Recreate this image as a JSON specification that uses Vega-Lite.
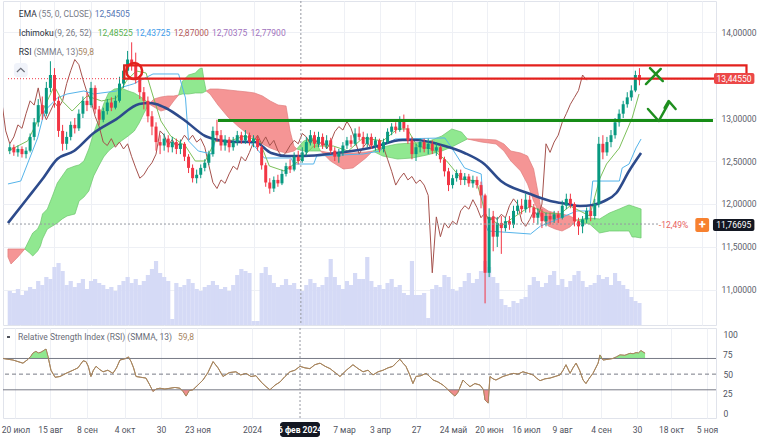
{
"$schema": "https://vega.github.io/schema/vega-lite/v6.json",
"padding": 0,
"background": "white",
"spacing": 1,
"config": {"view": {"stroke": "#e0e3eb"}, "font": "Roboto", "axis": {"labelFont": "Roboto", "labelFontSize": 8.5, "labelColor": "#50535e", "labelOverlap": false}, "text": {"font": "Roboto"}},
"datasets": {
"c": [
{"i":-3,"j":-29,"o":12.62,"h":12.70,"l":12.58,"c":12.66,"v":1.7},
{"i":-1,"j":-27,"o":12.66,"h":12.69,"l":12.56,"c":12.60,"v":1.6},
{"i":1,"j":-25,"o":12.60,"h":12.68,"l":12.55,"c":12.64,"v":1.8},
{"i":3,"j":-23,"o":12.64,"h":12.67,"l":12.54,"c":12.58,"v":1.5},
{"i":5,"j":-21,"o":12.58,"h":12.66,"l":12.53,"c":12.62,"v":1.7},
{"i":7,"j":-19,"o":12.62,"h":12.82,"l":12.60,"c":12.78,"v":1.9},
{"i":9,"j":-17,"o":12.78,"h":13.00,"l":12.74,"c":12.95,"v":1.8},
{"i":11,"j":-15,"o":12.95,"h":13.22,"l":12.90,"c":13.15,"v":2.2},
{"i":13,"j":-13,"o":13.15,"h":13.25,"l":12.98,"c":13.05,"v":2.0},
{"i":15,"j":-11,"o":13.05,"h":13.42,"l":13.02,"c":13.35,"v":2.4},
{"i":17,"j":-9,"o":13.35,"h":13.66,"l":13.30,"c":13.50,"v":2.3},
{"i":19,"j":-7,"o":13.50,"h":13.58,"l":13.12,"c":13.20,"v":2.9},
{"i":21,"j":-5,"o":13.20,"h":13.25,"l":12.78,"c":12.85,"v":3.1},
{"i":23,"j":-3,"o":12.85,"h":12.92,"l":12.62,"c":12.70,"v":2.7},
{"i":25,"j":-1,"o":12.70,"h":12.84,"l":12.63,"c":12.78,"v":2.0},
{"i":27,"j":1,"o":12.78,"h":12.96,"l":12.74,"c":12.92,"v":2.2},
{"i":29,"j":3,"o":12.92,"h":13.00,"l":12.82,"c":12.88,"v":1.9},
{"i":31,"j":5,"o":12.88,"h":13.10,"l":12.85,"c":13.05,"v":2.1},
{"i":33,"j":7,"o":13.05,"h":13.25,"l":13.00,"c":13.20,"v":2.3},
{"i":35,"j":9,"o":13.20,"h":13.30,"l":13.08,"c":13.15,"v":1.8},
{"i":37,"j":11,"o":13.15,"h":13.42,"l":13.12,"c":13.35,"v":2.2},
{"i":39,"j":13,"o":13.35,"h":13.38,"l":13.05,"c":13.10,"v":2.3},
{"i":41,"j":15,"o":13.10,"h":13.14,"l":12.92,"c":12.98,"v":2.1},
{"i":43,"j":17,"o":12.98,"h":13.12,"l":12.95,"c":13.08,"v":2.0},
{"i":45,"j":19,"o":13.08,"h":13.22,"l":13.04,"c":13.18,"v":1.8},
{"i":47,"j":21,"o":13.18,"h":13.24,"l":13.08,"c":13.12,"v":1.9},
{"i":49,"j":23,"o":13.12,"h":13.26,"l":13.10,"c":13.20,"v":1.7},
{"i":51,"j":25,"o":13.20,"h":13.48,"l":13.18,"c":13.40,"v":2.0},
{"i":53,"j":27,"o":13.40,"h":13.62,"l":13.35,"c":13.55,"v":2.2},
{"i":55,"j":29,"o":13.55,"h":13.78,"l":13.50,"c":13.68,"v":2.4},
{"i":57,"j":31,"o":13.68,"h":13.88,"l":13.55,"c":13.62,"v":2.1},
{"i":59,"j":33,"o":13.62,"h":13.76,"l":13.40,"c":13.45,"v":2.3},
{"i":61,"j":35,"o":13.45,"h":13.50,"l":13.22,"c":13.30,"v":2.0},
{"i":63,"j":37,"o":13.30,"h":13.36,"l":13.10,"c":13.20,"v":2.2},
{"i":65,"j":39,"o":13.20,"h":13.25,"l":12.95,"c":13.02,"v":2.5},
{"i":67,"j":41,"o":13.02,"h":13.08,"l":12.80,"c":12.90,"v":2.8},
{"i":69,"j":43,"o":12.90,"h":12.95,"l":12.62,"c":12.72,"v":3.2},
{"i":71,"j":45,"o":12.72,"h":12.80,"l":12.58,"c":12.68,"v":2.6},
{"i":73,"j":47,"o":12.68,"h":12.82,"l":12.62,"c":12.76,"v":2.4},
{"i":75,"j":49,"o":12.76,"h":12.80,"l":12.60,"c":12.66,"v":2.2},
{"i":77,"j":51,"o":12.66,"h":12.78,"l":12.60,"c":12.72,"v":0.3},
{"i":79,"j":53,"o":12.72,"h":12.76,"l":12.58,"c":12.64,"v":2.1},
{"i":81,"j":55,"o":12.64,"h":12.75,"l":12.58,"c":12.70,"v":1.9},
{"i":83,"j":57,"o":12.70,"h":12.72,"l":12.50,"c":12.55,"v":2.0},
{"i":85,"j":59,"o":12.55,"h":12.58,"l":12.36,"c":12.42,"v":2.3},
{"i":87,"j":61,"o":12.42,"h":12.46,"l":12.25,"c":12.30,"v":2.1},
{"i":89,"j":63,"o":12.30,"h":12.40,"l":12.24,"c":12.34,"v":1.8},
{"i":91,"j":65,"o":12.34,"h":12.46,"l":12.30,"c":12.42,"v":1.7},
{"i":93,"j":67,"o":12.42,"h":12.52,"l":12.38,"c":12.48,"v":1.9},
{"i":95,"j":69,"o":12.48,"h":12.62,"l":12.45,"c":12.58,"v":2.0},
{"i":97,"j":71,"o":12.58,"h":12.90,"l":12.55,"c":12.85,"v":2.2},
{"i":99,"j":73,"o":12.85,"h":12.98,"l":12.72,"c":12.80,"v":2.0},
{"i":101,"j":75,"o":12.80,"h":12.86,"l":12.62,"c":12.68,"v":1.8},
{"i":103,"j":77,"o":12.68,"h":12.80,"l":12.62,"c":12.75,"v":1.9},
{"i":105,"j":79,"o":12.75,"h":12.78,"l":12.60,"c":12.66,"v":1.7},
{"i":107,"j":81,"o":12.66,"h":12.78,"l":12.62,"c":12.72,"v":2.0},
{"i":109,"j":83,"o":12.72,"h":12.85,"l":12.68,"c":12.80,"v":2.5},
{"i":111,"j":85,"o":12.80,"h":12.84,"l":12.70,"c":12.74,"v":2.8},
{"i":113,"j":87,"o":12.74,"h":12.86,"l":12.70,"c":12.80,"v":2.7},
{"i":115,"j":89,"o":12.80,"h":12.83,"l":12.68,"c":12.72,"v":2.6},
{"i":117,"j":91,"o":12.72,"h":12.80,"l":12.66,"c":12.76,"v":0.2},
{"i":119,"j":93,"o":12.76,"h":12.79,"l":12.62,"c":12.66,"v":0.2},
{"i":121,"j":95,"o":12.66,"h":12.68,"l":12.40,"c":12.45,"v":2.6},
{"i":123,"j":97,"o":12.45,"h":12.48,"l":12.20,"c":12.25,"v":2.9},
{"i":125,"j":99,"o":12.25,"h":12.30,"l":12.12,"c":12.18,"v":2.5},
{"i":127,"j":101,"o":12.18,"h":12.32,"l":12.14,"c":12.28,"v":2.1},
{"i":129,"j":103,"o":12.28,"h":12.34,"l":12.20,"c":12.24,"v":1.9},
{"i":131,"j":105,"o":12.24,"h":12.40,"l":12.22,"c":12.35,"v":2.0},
{"i":133,"j":107,"o":12.35,"h":12.48,"l":12.32,"c":12.44,"v":2.3},
{"i":135,"j":109,"o":12.44,"h":12.52,"l":12.36,"c":12.40,"v":2.0},
{"i":137,"j":111,"o":12.40,"h":12.60,"l":12.38,"c":12.55,"v":2.1},
{"i":139,"j":113,"o":12.55,"h":12.62,"l":12.46,"c":12.50,"v":1.8},
{"i":141,"j":115,"o":12.50,"h":12.66,"l":12.48,"c":12.60,"v":1.7},
{"i":143,"j":117,"o":12.60,"h":12.78,"l":12.56,"c":12.72,"v":2.0},
{"i":145,"j":119,"o":12.72,"h":12.86,"l":12.68,"c":12.80,"v":2.3},
{"i":147,"j":121,"o":12.80,"h":12.84,"l":12.65,"c":12.70,"v":2.1},
{"i":149,"j":123,"o":12.70,"h":12.84,"l":12.66,"c":12.78,"v":1.9},
{"i":151,"j":125,"o":12.78,"h":12.82,"l":12.64,"c":12.68,"v":2.0},
{"i":153,"j":127,"o":12.68,"h":12.80,"l":12.64,"c":12.74,"v":2.4},
{"i":155,"j":129,"o":12.74,"h":12.77,"l":12.58,"c":12.62,"v":3.3},
{"i":157,"j":131,"o":12.62,"h":12.66,"l":12.50,"c":12.55,"v":2.4},
{"i":159,"j":133,"o":12.55,"h":12.64,"l":12.48,"c":12.60,"v":2.0},
{"i":161,"j":135,"o":12.60,"h":12.72,"l":12.56,"c":12.68,"v":1.8},
{"i":163,"j":137,"o":12.68,"h":12.78,"l":12.64,"c":12.74,"v":2.2},
{"i":165,"j":139,"o":12.74,"h":12.80,"l":12.66,"c":12.70,"v":2.0},
{"i":167,"j":141,"o":12.70,"h":12.88,"l":12.68,"c":12.82,"v":2.6},
{"i":169,"j":143,"o":12.82,"h":12.90,"l":12.74,"c":12.78,"v":2.3},
{"i":171,"j":145,"o":12.78,"h":12.84,"l":12.66,"c":12.70,"v":2.3},
{"i":173,"j":147,"o":12.70,"h":12.82,"l":12.66,"c":12.78,"v":3.4},
{"i":175,"j":149,"o":12.78,"h":12.82,"l":12.64,"c":12.68,"v":2.2},
{"i":177,"j":151,"o":12.68,"h":12.78,"l":12.62,"c":12.74,"v":1.9},
{"i":179,"j":153,"o":12.74,"h":12.76,"l":12.60,"c":12.64,"v":2.0},
{"i":181,"j":155,"o":12.64,"h":12.76,"l":12.60,"c":12.72,"v":1.8},
{"i":183,"j":157,"o":12.72,"h":12.88,"l":12.70,"c":12.84,"v":2.1},
{"i":185,"j":159,"o":12.84,"h":12.94,"l":12.80,"c":12.90,"v":2.3},
{"i":187,"j":161,"o":12.90,"h":12.95,"l":12.82,"c":12.86,"v":1.9},
{"i":189,"j":163,"o":12.86,"h":13.02,"l":12.84,"c":12.96,"v":2.0},
{"i":191,"j":165,"o":12.96,"h":13.04,"l":12.84,"c":12.88,"v":1.6},
{"i":193,"j":167,"o":12.88,"h":12.92,"l":12.70,"c":12.74,"v":1.5},
{"i":195,"j":169,"o":12.74,"h":12.78,"l":12.52,"c":12.58,"v":3.2},
{"i":197,"j":171,"o":12.58,"h":12.70,"l":12.50,"c":12.66,"v":1.5},
{"i":199,"j":173,"o":12.66,"h":12.76,"l":12.60,"c":12.72,"v":1.5},
{"i":201,"j":175,"o":12.72,"h":12.76,"l":12.60,"c":12.64,"v":1.6},
{"i":203,"j":177,"o":12.64,"h":12.76,"l":12.58,"c":12.70,"v":0.35},
{"i":205,"j":179,"o":12.70,"h":12.74,"l":12.58,"c":12.62,"v":1.8},
{"i":207,"j":181,"o":12.62,"h":12.72,"l":12.56,"c":12.66,"v":2.0},
{"i":209,"j":183,"o":12.66,"h":12.68,"l":12.48,"c":12.52,"v":1.9},
{"i":211,"j":185,"o":12.52,"h":12.55,"l":12.32,"c":12.38,"v":2.5},
{"i":213,"j":187,"o":12.38,"h":12.42,"l":12.15,"c":12.22,"v":2.4},
{"i":215,"j":189,"o":12.22,"h":12.34,"l":12.18,"c":12.30,"v":1.8},
{"i":217,"j":191,"o":12.30,"h":12.40,"l":12.26,"c":12.36,"v":1.7},
{"i":219,"j":193,"o":12.36,"h":12.40,"l":12.22,"c":12.28,"v":1.9},
{"i":221,"j":195,"o":12.28,"h":12.36,"l":12.22,"c":12.32,"v":2.2},
{"i":223,"j":197,"o":12.32,"h":12.35,"l":12.20,"c":12.24,"v":2.6},
{"i":225,"j":199,"o":12.24,"h":12.33,"l":12.19,"c":12.28,"v":2.1},
{"i":227,"j":201,"o":12.28,"h":12.32,"l":12.18,"c":12.22,"v":2.3},
{"i":229,"j":203,"o":12.22,"h":12.26,"l":11.95,"c":12.10,"v":2.7},
{"i":231,"j":205,"o":12.10,"h":12.12,"l":10.845,"c":11.20,"v":3.2},
{"i":233,"j":207,"o":11.20,"h":11.95,"l":11.15,"c":11.85,"v":2.9},
{"i":235,"j":209,"o":11.85,"h":11.92,"l":11.45,"c":11.62,"v":2.4},
{"i":237,"j":211,"o":11.62,"h":11.85,"l":11.50,"c":11.78,"v":2.1},
{"i":239,"j":213,"o":11.78,"h":11.86,"l":11.42,"c":11.72,"v":1.3},
{"i":241,"j":215,"o":11.72,"h":11.85,"l":11.68,"c":11.80,"v":1.0},
{"i":243,"j":217,"o":11.80,"h":11.86,"l":11.70,"c":11.76,"v":0.9},
{"i":245,"j":219,"o":11.76,"h":11.98,"l":11.72,"c":11.92,"v":1.2},
{"i":247,"j":221,"o":11.92,"h":12.05,"l":11.88,"c":11.98,"v":1.1},
{"i":249,"j":223,"o":11.98,"h":12.06,"l":11.88,"c":11.94,"v":1.3},
{"i":251,"j":225,"o":11.94,"h":12.12,"l":11.90,"c":12.05,"v":1.4},
{"i":253,"j":227,"o":12.05,"h":12.10,"l":11.90,"c":11.96,"v":2.0},
{"i":255,"j":229,"o":11.96,"h":12.00,"l":11.78,"c":11.84,"v":2.4},
{"i":257,"j":231,"o":11.84,"h":11.95,"l":11.76,"c":11.90,"v":2.2},
{"i":259,"j":233,"o":11.90,"h":11.94,"l":11.72,"c":11.80,"v":1.9},
{"i":261,"j":235,"o":11.80,"h":11.90,"l":11.74,"c":11.86,"v":2.1},
{"i":263,"j":237,"o":11.86,"h":11.90,"l":11.76,"c":11.82,"v":2.5},
{"i":265,"j":239,"o":11.82,"h":11.92,"l":11.78,"c":11.88,"v":2.7},
{"i":267,"j":241,"o":11.88,"h":11.92,"l":11.78,"c":11.84,"v":2.0},
{"i":269,"j":243,"o":11.84,"h":12.04,"l":11.82,"c":11.98,"v":2.3},
{"i":271,"j":245,"o":11.98,"h":12.12,"l":11.94,"c":12.06,"v":1.9},
{"i":273,"j":247,"o":12.06,"h":12.12,"l":11.95,"c":12.00,"v":2.2},
{"i":275,"j":249,"o":12.00,"h":12.02,"l":11.74,"c":11.80,"v":2.5},
{"i":277,"j":251,"o":11.80,"h":11.84,"l":11.64,"c":11.74,"v":2.7},
{"i":279,"j":253,"o":11.74,"h":11.86,"l":11.66,"c":11.82,"v":2.2},
{"i":281,"j":255,"o":11.82,"h":11.96,"l":11.78,"c":11.92,"v":1.9},
{"i":283,"j":257,"o":11.92,"h":11.98,"l":11.80,"c":11.86,"v":2.0},
{"i":285,"j":259,"o":11.86,"h":12.06,"l":11.82,"c":12.00,"v":2.1},
{"i":287,"j":261,"o":12.00,"h":12.78,"l":11.96,"c":12.70,"v":2.5},
{"i":289,"j":263,"o":12.70,"h":12.80,"l":12.52,"c":12.60,"v":2.3},
{"i":291,"j":265,"o":12.60,"h":12.78,"l":12.56,"c":12.72,"v":2.4},
{"i":293,"j":267,"o":12.72,"h":12.86,"l":12.66,"c":12.80,"v":2.0},
{"i":295,"j":269,"o":12.80,"h":13.00,"l":12.76,"c":12.95,"v":2.6},
{"i":297,"j":271,"o":12.95,"h":13.10,"l":12.90,"c":13.05,"v":2.2},
{"i":299,"j":273,"o":13.05,"h":13.20,"l":13.00,"c":13.16,"v":2.0},
{"i":301,"j":275,"o":13.16,"h":13.30,"l":13.12,"c":13.24,"v":1.8},
{"i":303,"j":277,"o":13.24,"h":13.38,"l":13.20,"c":13.32,"v":1.4},
{"i":305,"j":279,"o":13.32,"h":13.55,"l":13.30,"c":13.50,"v":1.2},
{"i":307,"j":281,"o":13.50,"h":13.58,"l":13.38,"c":13.44,"v":1.1}
],
"cloud": [
{"s":"s1","k":"r","i":-3.9,"a":11.477,"b":11.384},{"s":"s1","k":"r","i":-2.4,"a":11.477,"b":11.302},{"s":"s1","k":"r","i":1.0,"a":11.477,"b":11.384},{"s":"s1","k":"r","i":4.4,"a":11.477,"b":11.477},
{"s":"s2","k":"g","i":4.4,"a":11.477,"b":11.477},{"s":"s2","k":"g","i":6.8,"a":11.593,"b":11.430},{"s":"s2","k":"g","i":8.3,"a":11.663,"b":11.395},{"s":"s2","k":"g","i":10.7,"a":11.709,"b":11.453},{"s":"s2","k":"g","i":12.1,"a":11.779,"b":11.512},{"s":"s2","k":"g","i":13.1,"a":11.884,"b":11.593},{"s":"s2","k":"g","i":15.5,"a":11.942,"b":11.709},{"s":"s2","k":"g","i":18.0,"a":12.093,"b":11.744},{"s":"s2","k":"g","i":20.4,"a":12.244,"b":11.779},{"s":"s2","k":"g","i":22.8,"a":12.326,"b":11.826},{"s":"s2","k":"g","i":25.2,"a":12.407,"b":11.861},{"s":"s2","k":"g","i":29.1,"a":12.442,"b":11.884},{"s":"s2","k":"g","i":31.1,"a":12.454,"b":12.035},{"s":"s2","k":"g","i":33.5,"a":12.5,"b":12.081},{"s":"s2","k":"g","i":35.9,"a":12.64,"b":12.151},{"s":"s2","k":"g","i":38.3,"a":12.826,"b":12.326},{"s":"s2","k":"g","i":40.8,"a":12.988,"b":12.442},{"s":"s2","k":"g","i":43.2,"a":13.163,"b":12.547},{"s":"s2","k":"g","i":45.6,"a":13.291,"b":12.616},{"s":"s2","k":"g","i":48.5,"a":13.337,"b":12.674},{"s":"s2","k":"g","i":51.9,"a":13.349,"b":12.733},{"s":"s2","k":"g","i":55.3,"a":13.314,"b":12.791},{"s":"s2","k":"g","i":58.3,"a":13.291,"b":12.849},{"s":"s2","k":"g","i":60.7,"a":13.256,"b":12.942},{"s":"s2","k":"g","i":63.1,"a":13.221,"b":13.058},{"s":"s2","k":"g","i":65.5,"a":13.163,"b":13.163},
{"s":"s3","k":"r","i":65.5,"a":13.163,"b":13.163},{"s":"s3","k":"r","i":68.0,"a":13.221,"b":13.128},{"s":"s3","k":"r","i":71.4,"a":13.244,"b":13.081},{"s":"s3","k":"r","i":74.8,"a":13.256,"b":13.105},{"s":"s3","k":"r","i":77.7,"a":13.256,"b":13.198},{"s":"s3","k":"r","i":80.1,"a":13.267,"b":13.267},
{"s":"s4","k":"g","i":80.1,"a":13.267,"b":13.267},{"s":"s4","k":"g","i":82.0,"a":13.43,"b":13.279},{"s":"s4","k":"g","i":85.0,"a":13.5,"b":13.279},{"s":"s4","k":"g","i":88.3,"a":13.523,"b":13.291},{"s":"s4","k":"g","i":90.3,"a":13.57,"b":13.291},{"s":"s4","k":"g","i":91.7,"a":13.581,"b":13.291},{"s":"s4","k":"g","i":92.7,"a":13.43,"b":13.302},{"s":"s4","k":"g","i":93.7,"a":13.314,"b":13.314},
{"s":"s5","k":"r","i":93.7,"a":13.314,"b":13.314},{"s":"s5","k":"r","i":95.6,"a":13.337,"b":13.279},{"s":"s5","k":"r","i":99.5,"a":13.337,"b":13.151},{"s":"s5","k":"r","i":104.4,"a":13.326,"b":13.012},{"s":"s5","k":"r","i":109.2,"a":13.314,"b":12.907},{"s":"s5","k":"r","i":114.1,"a":13.302,"b":12.814},{"s":"s5","k":"r","i":117.5,"a":13.291,"b":12.756},{"s":"s5","k":"r","i":121.4,"a":13.256,"b":12.698},{"s":"s5","k":"r","i":125.2,"a":13.198,"b":12.651},{"s":"s5","k":"r","i":129.1,"a":13.151,"b":12.616},{"s":"s5","k":"r","i":133.0,"a":13.14,"b":12.593},{"s":"s5","k":"r","i":135.0,"a":12.849,"b":12.605},{"s":"s5","k":"r","i":136.9,"a":12.674,"b":12.616},{"s":"s5","k":"r","i":138.3,"a":12.64,"b":12.64},
{"s":"s6","k":"g","i":138.3,"a":12.64,"b":12.64},{"s":"s6","k":"g","i":141.7,"a":12.733,"b":12.616},{"s":"s6","k":"g","i":146.6,"a":12.768,"b":12.616},{"s":"s6","k":"g","i":150.0,"a":12.616,"b":12.616},
{"s":"s7","k":"r","i":150.0,"a":12.616,"b":12.616},{"s":"s7","k":"r","i":154.9,"a":12.593,"b":12.5},{"s":"s7","k":"r","i":161.2,"a":12.593,"b":12.407},{"s":"s7","k":"r","i":166.0,"a":12.593,"b":12.419},{"s":"s7","k":"r","i":172.3,"a":12.605,"b":12.535},{"s":"s7","k":"r","i":175.7,"a":12.616,"b":12.616},
{"s":"s8","k":"g","i":175.7,"a":12.616,"b":12.616},{"s":"s8","k":"g","i":180.6,"a":12.663,"b":12.558},{"s":"s8","k":"g","i":187.9,"a":12.698,"b":12.523},{"s":"s8","k":"g","i":195.1,"a":12.709,"b":12.535},{"s":"s8","k":"g","i":202.4,"a":12.721,"b":12.57},{"s":"s8","k":"g","i":209.7,"a":12.791,"b":12.616},{"s":"s8","k":"g","i":214.6,"a":12.872,"b":12.663},{"s":"s8","k":"g","i":219.4,"a":12.837,"b":12.721},{"s":"s8","k":"g","i":222.3,"a":12.756,"b":12.756},
{"s":"s9","k":"r","i":222.3,"a":12.756,"b":12.756},{"s":"s9","k":"r","i":229.1,"a":12.756,"b":12.721},{"s":"s9","k":"r","i":236.4,"a":12.744,"b":12.698},{"s":"s9","k":"r","i":240.3,"a":12.698,"b":12.616},{"s":"s9","k":"r","i":243.7,"a":12.616,"b":12.5},{"s":"s9","k":"r","i":248.5,"a":12.593,"b":12.384},{"s":"s9","k":"r","i":251.9,"a":12.558,"b":12.233},{"s":"s9","k":"r","i":254.9,"a":12.407,"b":12.035},{"s":"s9","k":"r","i":258.3,"a":11.977,"b":11.861},{"s":"s9","k":"r","i":262.1,"a":11.919,"b":11.744},{"s":"s9","k":"r","i":265.5,"a":11.895,"b":11.709},{"s":"s9","k":"r","i":268.9,"a":11.884,"b":11.686},{"s":"s9","k":"r","i":272.8,"a":11.861,"b":11.733},{"s":"s9","k":"r","i":276.2,"a":11.814,"b":11.814},
{"s":"s10","k":"g","i":276.2,"a":11.814,"b":11.814},{"s":"s10","k":"g","i":279.1,"a":11.826,"b":11.779},{"s":"s10","k":"g","i":282.5,"a":11.837,"b":11.767},{"s":"s10","k":"g","i":287.4,"a":11.826,"b":11.663},{"s":"s10","k":"g","i":292.2,"a":11.895,"b":11.686},{"s":"s10","k":"g","i":297.1,"a":11.942,"b":11.686},{"s":"s10","k":"g","i":300.5,"a":11.977,"b":11.686},{"s":"s10","k":"g","i":301.9,"a":11.988,"b":11.686},{"s":"s10","k":"g","i":303.4,"a":11.977,"b":11.616},{"s":"s10","k":"g","i":304.9,"a":11.965,"b":11.616},{"s":"s10","k":"g","i":307.8,"a":11.942,"b":11.605}
],
"ema": [
{"i":-3.9,"p":11.779},{"i":5.8,"p":12.07},{"i":13.1,"p":12.291},{"i":20.4,"p":12.523},{"i":28.6,"p":12.616},{"i":38.3,"p":12.826},{"i":49.5,"p":12.988},{"i":60.7,"p":13.163},{"i":65.5,"p":13.174},{"i":68.9,"p":13.163},{"i":73.8,"p":13.116},{"i":83.5,"p":12.965},{"i":93.2,"p":12.791},{"i":99.5,"p":12.744},{"i":107.8,"p":12.721},{"i":117.5,"p":12.721},{"i":125.7,"p":12.593},{"i":133.5,"p":12.558},{"i":141.7,"p":12.558},{"i":157.8,"p":12.593},{"i":174.3,"p":12.651},{"i":190.3,"p":12.744},{"i":196.6,"p":12.744},{"i":211.2,"p":12.674},{"i":220.9,"p":12.593},{"i":230.6,"p":12.465},{"i":238.8,"p":12.267},{"i":251.9,"p":12.128},{"i":263.1,"p":12.035},{"i":271.4,"p":12.0},{"i":277.7,"p":11.977},{"i":284.0,"p":11.988},{"i":289.8,"p":12.035},{"i":295.6,"p":12.128},{"i":301.9,"p":12.384},{"i":307.8,"p":12.593}
],
"kj": [
{"i":-3.9,"p":12.233},{"i":2.4,"p":12.267},{"i":10.7,"p":12.768},{"i":14.1,"p":13.081},{"i":20.4,"p":13.233},{"i":25.2,"p":13.279},{"i":33.5,"p":13.314},{"i":38.3,"p":13.279},{"i":49.5,"p":13.314},{"i":51.0,"p":13.349},{"i":57.8,"p":13.396},{"i":60.7,"p":13.43},{"i":67.5,"p":13.512},{"i":80.1,"p":13.512},{"i":83.5,"p":13.233},{"i":85.0,"p":12.733},{"i":89.8,"p":12.616},{"i":96.6,"p":12.581},{"i":98.1,"p":12.733},{"i":114.1,"p":12.733},{"i":117.5,"p":12.674},{"i":122.3,"p":12.535},{"i":135.4,"p":12.535},{"i":136.9,"p":12.465},{"i":146.6,"p":12.465},{"i":148.1,"p":12.558},{"i":170.9,"p":12.581},{"i":179.1,"p":12.616},{"i":182.0,"p":12.698},{"i":186.9,"p":12.756},{"i":211.2,"p":12.768},{"i":214.6,"p":12.651},{"i":220.9,"p":12.419},{"i":229.1,"p":12.349},{"i":230.6,"p":11.802},{"i":232.5,"p":11.686},{"i":253.4,"p":11.651},{"i":258.3,"p":11.744},{"i":264.6,"p":11.802},{"i":268.0,"p":11.837},{"i":276.2,"p":11.919},{"i":282.5,"p":11.919},{"i":284.0,"p":12.267},{"i":297.1,"p":12.267},{"i":298.5,"p":12.419},{"i":301.9,"p":12.465},{"i":305.3,"p":12.651},{"i":307.8,"p":12.756}
],
"tk": [
{"i":-3.9,"p":12.616},{"i":5.8,"p":12.733},{"i":13.1,"p":13.081},{"i":18.9,"p":13.372},{"i":22.8,"p":13.198},{"i":27.7,"p":13.081},{"i":35.0,"p":13.256},{"i":42.2,"p":13.198},{"i":49.5,"p":13.233},{"i":54.4,"p":13.43},{"i":59.2,"p":13.547},{"i":64.1,"p":13.523},{"i":67.5,"p":13.256},{"i":71.4,"p":12.965},{"i":76.2,"p":12.791},{"i":83.5,"p":12.674},{"i":88.3,"p":12.5},{"i":93.2,"p":12.5},{"i":98.1,"p":12.733},{"i":105.3,"p":12.733},{"i":112.6,"p":12.791},{"i":119.9,"p":12.733},{"i":124.8,"p":12.442},{"i":132.0,"p":12.384},{"i":139.3,"p":12.5},{"i":146.6,"p":12.674},{"i":156.3,"p":12.674},{"i":163.6,"p":12.616},{"i":170.9,"p":12.768},{"i":180.6,"p":12.733},{"i":187.9,"p":12.872},{"i":192.7,"p":12.872},{"i":197.6,"p":12.674},{"i":204.9,"p":12.64},{"i":212.1,"p":12.5},{"i":219.4,"p":12.291},{"i":226.7,"p":12.267},{"i":231.6,"p":11.861},{"i":238.8,"p":11.744},{"i":246.1,"p":11.861},{"i":253.4,"p":11.977},{"i":260.7,"p":11.895},{"i":268.0,"p":11.884},{"i":272.8,"p":11.977},{"i":277.7,"p":11.919},{"i":282.5,"p":11.861},{"i":287.4,"p":12.291},{"i":290.8,"p":12.465},{"i":297.1,"p":12.651},{"i":303.4,"p":13.0},{"i":306.8,"p":13.279}
],
"rsi": [
{"i":-3.9,"r":70},{"i":-1.5,"r":69},{"i":1.0,"r":68},{"i":3.4,"r":66},{"i":5.8,"r":64},{"i":8.3,"r":69},{"i":9.7,"r":73},{"i":10.7,"r":77},{"i":12.1,"r":79},{"i":13.3,"r":77},{"i":14.6,"r":78},{"i":17.0,"r":82},{"i":18.0,"r":72},{"i":19.4,"r":55},{"i":21.4,"r":46},{"i":23.8,"r":47},{"i":26.7,"r":51},{"i":30.1,"r":55},{"i":32.5,"r":58},{"i":35.0,"r":67},{"i":36.4,"r":66},{"i":37.5,"r":60},{"i":38.8,"r":47},{"i":40.0,"r":55},{"i":41.3,"r":60},{"i":43.0,"r":56},{"i":44.7,"r":53},{"i":47.0,"r":55},{"i":49.5,"r":51},{"i":51.2,"r":58},{"i":52.9,"r":68},{"i":55.8,"r":70},{"i":57.0,"r":72},{"i":58.3,"r":66},{"i":59.5,"r":58},{"i":60.7,"r":47},{"i":63.0,"r":46},{"i":65.5,"r":45},{"i":67.2,"r":37},{"i":68.9,"r":28},{"i":70.5,"r":31},{"i":72.3,"r":32},{"i":74.7,"r":31},{"i":77.2,"r":32},{"i":79.6,"r":33},{"i":82.0,"r":32},{"i":83.5,"r":28},{"i":85.0,"r":22},{"i":86.5,"r":29},{"i":88.3,"r":30},{"i":90.7,"r":36},{"i":93.2,"r":42.5},{"i":95.6,"r":52},{"i":98.1,"r":66},{"i":100.5,"r":58},{"i":102.9,"r":47},{"i":106.0,"r":52},{"i":109.2,"r":53},{"i":111.5,"r":49},{"i":114.1,"r":51},{"i":116.5,"r":47},{"i":118.9,"r":48},{"i":121.4,"r":40},{"i":123.8,"r":34},{"i":125.7,"r":30},{"i":128.2,"r":36},{"i":130.6,"r":40},{"i":133.0,"r":47},{"i":135.4,"r":53},{"i":137.8,"r":55},{"i":140.3,"r":60},{"i":142.7,"r":58},{"i":145.1,"r":57},{"i":147.5,"r":62},{"i":150.0,"r":64},{"i":152.5,"r":60},{"i":154.9,"r":57},{"i":157.3,"r":52},{"i":159.7,"r":47},{"i":162.8,"r":55},{"i":166.0,"r":62},{"i":168.5,"r":57},{"i":170.9,"r":53},{"i":173.3,"r":55},{"i":175.7,"r":49},{"i":178.2,"r":53},{"i":180.6,"r":55},{"i":183.0,"r":58},{"i":185.4,"r":60},{"i":187.2,"r":65},{"i":188.8,"r":69},{"i":190.3,"r":64},{"i":191.7,"r":60},{"i":193.4,"r":50},{"i":195.1,"r":38},{"i":196.6,"r":47},{"i":199.0,"r":48},{"i":201.5,"r":51},{"i":203.2,"r":47},{"i":204.9,"r":42.5},{"i":207.3,"r":40},{"i":209.7,"r":36},{"i":211.4,"r":32},{"i":213.1,"r":27.6},{"i":215.5,"r":22},{"i":217.0,"r":27},{"i":219.4,"r":42.5},{"i":221.1,"r":38},{"i":222.8,"r":34},{"i":225.2,"r":38},{"i":227.7,"r":36},{"i":229.4,"r":30},{"i":230.1,"r":17},{"i":231.6,"r":13},{"i":232.5,"r":47},{"i":234.0,"r":44},{"i":235.4,"r":42.5},{"i":238.8,"r":47},{"i":241.2,"r":49},{"i":243.7,"r":51},{"i":246.1,"r":50},{"i":248.5,"r":53},{"i":251.0,"r":51},{"i":253.4,"r":49},{"i":255.1,"r":45},{"i":256.8,"r":41.6},{"i":259.2,"r":44},{"i":261.7,"r":45},{"i":264.1,"r":47},{"i":266.5,"r":49},{"i":268.0,"r":55},{"i":269.4,"r":62},{"i":271.4,"r":51},{"i":272.8,"r":58},{"i":274.3,"r":64},{"i":276.0,"r":55},{"i":277.7,"r":42.5},{"i":279.1,"r":38},{"i":280.8,"r":45},{"i":282.5,"r":51},{"i":285.0,"r":64},{"i":285.9,"r":74.5},{"i":287.4,"r":68},{"i":289.8,"r":69},{"i":292.2,"r":70},{"i":293.9,"r":72},{"i":295.6,"r":74.5},{"i":298.0,"r":74},{"i":300.5,"r":76.6},{"i":302.0,"r":76},{"i":303.4,"r":77.4},{"i":304.6,"r":77},{"i":305.8,"r":80},{"i":307.8,"r":76.6}
],
"rg": [
{"s":"g1","i":8.65,"r":70},{"s":"g1","i":9.7,"r":73},{"s":"g1","i":10.7,"r":77},{"s":"g1","i":12.1,"r":79},{"s":"g1","i":13.3,"r":77},{"s":"g1","i":14.6,"r":78},{"s":"g1","i":17.0,"r":82},{"s":"g1","i":18.0,"r":72},{"s":"g1","i":18.16,"r":70},
{"s":"g2","i":285.5,"r":70},{"s":"g2","i":285.9,"r":74.5},{"s":"g2","i":286.9,"r":70},
{"s":"g3","i":292.2,"r":70},{"s":"g3","i":293.9,"r":72},{"s":"g3","i":295.6,"r":74.5},{"s":"g3","i":298.0,"r":74},{"s":"g3","i":300.5,"r":76.6},{"s":"g3","i":302.0,"r":76},{"s":"g3","i":303.4,"r":77.4},{"s":"g3","i":304.6,"r":77},{"s":"g3","i":305.8,"r":80},{"s":"g3","i":307.8,"r":76.6}
],
"rr": [
{"s":"r1","i":67.8,"r":30},{"s":"r1","i":68.9,"r":28},{"s":"r1","i":70.0,"r":30},
{"s":"r2","i":83.0,"r":30},{"s":"r2","i":83.5,"r":28},{"s":"r2","i":85.0,"r":22},{"s":"r2","i":86.5,"r":29},{"s":"r2","i":88.3,"r":30},
{"s":"r3","i":212.2,"r":30},{"s":"r3","i":213.1,"r":27.6},{"s":"r3","i":215.5,"r":22},{"s":"r3","i":217.0,"r":27},{"s":"r3","i":217.3,"r":30},
{"s":"r4","i":229.4,"r":30},{"s":"r4","i":230.1,"r":17},{"s":"r4","i":231.6,"r":13},{"s":"r4","i":232.0,"r":30}
],
"rl": [{"r":25,"t":"25"},{"r":75,"t":"75"}],
"lg": [
{"i":1.46,"p":14.206,"t":"EMA","g":"n"},{"i":11.17,"p":14.206,"t":"(55, 0, CLOSE)","g":"m"},{"i":38.83,"p":14.206,"t":"12,54505","g":"ema"},
{"i":1.46,"p":13.985,"t":"Ichimoku","g":"n"},{"i":18.93,"p":13.985,"t":"(9, 26, 52)","g":"m"},{"i":40.29,"p":13.985,"t":"12,48525","g":"tk"},{"i":58.74,"p":13.985,"t":"12,43725","g":"kj"},{"i":77.67,"p":13.985,"t":"12,87000","g":"ck"},{"i":96.6,"p":13.985,"t":"12,70375","g":"la"},{"i":115.53,"p":13.985,"t":"12,77900","g":"lb"},
{"i":1.46,"p":13.768,"t":"RSI","g":"n"},{"i":8.74,"p":13.768,"t":"(SMMA, 13)","g":"m"},{"i":30.58,"p":13.768,"t":"59,8","g":"rsi"}
],
"dr": [
{"s":"x1","i":310.2,"p":13.395},{"s":"x1","i":317.5,"p":13.57},
{"s":"x2","i":312.2,"p":13.581},{"s":"x2","i":318.5,"p":13.43},
{"s":"ck","i":311.2,"p":13.105},{"s":"ck","i":316.5,"p":12.965},{"s":"ck","i":321.4,"p":13.174},
{"s":"ar","i":319.4,"p":13.117},{"s":"ar","i":321.4,"p":13.198},{"s":"ar","i":324.8,"p":13.105}
],
"chev": [{"s":"v","i":0.5,"p":13.535},{"s":"v","i":2.4,"p":13.578},{"s":"v","i":4.3,"p":13.535}]
},
"vconcat": [
{
"width": 713, "height": 324,
"resolve": {"scale": {"y": "independent"}},
"layer": [
{"data": {"name": "c"}, "mark": {"type": "bar", "width": 4.2, "color": "#d5daf6", "clip": true},
 "encoding": {
  "x": {"field": "i", "type": "quantitative", "scale": {"domain": [-3.883, 342.23], "nice": false, "zero": false},
        "axis": {"values": [2.18,18.93,36.89,55.1,72.82,90.53,116.99,161.65,179.13,196.6,214.56,232.04,250,267.48,286.41,303.88,320.39,337.86], "grid": true, "gridColor": "#eef0f5", "labels": false, "ticks": false, "domain": false, "minExtent": 0, "maxExtent": 0, "offset": 0, "title": null}},
  "y": {"field": "v", "type": "quantitative", "scale": {"domain": [0, 16.2], "nice": false}, "axis": null}}},
{"layer": [
 {"data": {"name": "cloud"}, "mark": {"type": "area", "clip": true, "strokeWidth": 0.7},
  "encoding": {
   "x": {"field": "i", "type": "quantitative", "scale": {"domain": [-3.883, 342.23], "nice": false, "zero": false}},
   "y": {"field": "a", "type": "quantitative", "scale": {"domain": [10.593, 14.3605], "nice": false, "zero": false},
         "axis": {"orient": "right", "values": [11, 11.5, 12, 12.5, 13, 14], "labelExpr": "replace(format(datum.value, '.5f'), '.', ',')", "grid": true, "gridColor": "#eef0f5", "ticks": false, "domain": false, "labelPadding": 5, "labelFontSize": 8.5, "labelColor": "#5d606b", "labelOverlap": false, "title": null}},
   "y2": {"field": "b"},
   "fill": {"field": "k", "type": "nominal", "scale": {"domain": ["g", "r"], "range": ["#90e890", "#f59595"]}, "legend": null},
   "stroke": {"field": "k", "type": "nominal", "scale": {"domain": ["g", "r"], "range": ["#6cc46c", "#e07c7c"]}, "legend": null},
   "detail": {"field": "s", "type": "nominal"}}},
 {"data": {"name": "c"}, "mark": {"type": "line", "clip": true, "color": "#a5524d", "strokeWidth": 1},
  "encoding": {"x": {"field": "j", "type": "quantitative"}, "y": {"field": "c", "type": "quantitative"}}},
 {"data": {"name": "kj"}, "mark": {"type": "line", "clip": true, "color": "#55b4ea", "strokeWidth": 1},
  "encoding": {"x": {"field": "i", "type": "quantitative"}, "y": {"field": "p", "type": "quantitative"}}},
 {"data": {"name": "tk"}, "mark": {"type": "line", "clip": true, "color": "#7cc05a", "strokeWidth": 1},
  "encoding": {"x": {"field": "i", "type": "quantitative"}, "y": {"field": "p", "type": "quantitative"}}},
 {"data": {"name": "ema"}, "mark": {"type": "line", "clip": true, "color": "#2d4b8c", "strokeWidth": 2.6, "interpolate": "monotone"},
  "encoding": {"x": {"field": "i", "type": "quantitative"}, "y": {"field": "p", "type": "quantitative"}}},
 {"data": {"name": "c"}, "mark": {"type": "rule", "clip": true, "strokeWidth": 1},
  "encoding": {"x": {"field": "i", "type": "quantitative"}, "y": {"field": "l", "type": "quantitative"}, "y2": {"field": "h"},
   "color": {"condition": {"test": "datum.c >= datum.o", "value": "#089981"}, "value": "#f23645"}}},
 {"data": {"name": "c"}, "mark": {"type": "bar", "clip": true, "width": 3},
  "encoding": {"x": {"field": "i", "type": "quantitative"}, "y": {"field": "o", "type": "quantitative"}, "y2": {"field": "c"},
   "color": {"condition": {"test": "datum.c >= datum.o", "value": "#089981"}, "value": "#f23645"}}},
 {"data": {"values": [{}]}, "mark": {"type": "rule", "color": "#9598a1", "strokeDash": [2, 2], "strokeWidth": 1},
  "encoding": {"x": {"datum": -3.883, "type": "quantitative"}, "x2": {"datum": 316.5}, "y": {"datum": 11.767, "type": "quantitative"}}},
 {"data": {"values": [{}]}, "mark": {"type": "rule", "color": "#9598a1", "strokeDash": [2, 2], "strokeWidth": 1},
  "encoding": {"x": {"datum": 140.3, "type": "quantitative"}}},
 {"data": {"values": [{}]}, "mark": {"type": "rule", "color": "#f23645", "strokeDash": [1, 2], "strokeWidth": 1},
  "encoding": {"x": {"datum": -3.883, "type": "quantitative"}, "x2": {"datum": 342.2}, "y": {"datum": 13.457, "type": "quantitative"}}},
 {"data": {"values": [{}]}, "mark": {"type": "rect", "fill": "#f0f3fa", "cornerRadius": 3},
  "encoding": {"x": {"datum": -0.97, "type": "quantitative"}, "x2": {"datum": 5.83}, "y": {"datum": 13.639, "type": "quantitative"}, "y2": {"datum": 13.477}}},
 {"data": {"name": "chev"}, "mark": {"type": "line", "color": "#6a6d78", "strokeWidth": 1.2},
  "encoding": {"x": {"field": "i", "type": "quantitative"}, "y": {"field": "p", "type": "quantitative"}, "detail": {"field": "s", "type": "nominal"}}},
 {"data": {"values": [{}]}, "mark": {"type": "rule", "color": "#168c16", "strokeWidth": 3},
  "encoding": {"x": {"datum": 99.5, "type": "quantitative"}, "x2": {"datum": 343.2}, "y": {"datum": 12.971, "type": "quantitative"}}},
 {"data": {"values": [{}]}, "mark": {"type": "rect", "fill": "transparent", "stroke": "#e3211d", "strokeWidth": 2.2},
  "encoding": {"x": {"datum": 53.4, "type": "quantitative"}, "x2": {"datum": 359.7}, "y": {"datum": 13.613, "type": "quantitative"}, "y2": {"datum": 13.457}}},
 {"data": {"values": [{}]}, "mark": {"type": "point", "shape": "circle", "filled": false, "size": 254, "color": "#e3211d", "strokeWidth": 2.5, "opacity": 1},
  "encoding": {"x": {"datum": 58.25, "type": "quantitative"}, "y": {"datum": 13.547, "type": "quantitative"}}},
 {"data": {"name": "dr"}, "mark": {"type": "line", "color": "#1f8f1f", "strokeWidth": 2.5, "strokeCap": "round", "strokeJoin": "round"},
  "encoding": {"x": {"field": "i", "type": "quantitative"}, "y": {"field": "p", "type": "quantitative"}, "detail": {"field": "s", "type": "nominal"}}},
 {"data": {"name": "lg"}, "mark": {"type": "text", "align": "left", "baseline": "middle", "fontSize": 8.5},
  "encoding": {"x": {"field": "i", "type": "quantitative"}, "y": {"field": "p", "type": "quantitative"}, "text": {"field": "t"},
   "color": {"field": "g", "type": "nominal", "scale": {"domain": ["n","m","ema","tk","kj","ck","la","lb","rsi"], "range": ["#2a2e39","#787b86","#5576b4","#58b04e","#3d9be9","#b35a5a","#a071bd","#a071bd","#a8865f"]}, "legend": null}}},
 {"data": {"values": [{}]}, "mark": {"type": "rect", "fill": "#ec4848", "cornerRadius": 2},
  "encoding": {"x": {"datum": 343.7, "type": "quantitative"}, "x2": {"datum": 363.6}, "y": {"datum": 13.523, "type": "quantitative"}, "y2": {"datum": 13.395}}},
 {"data": {"values": [{}]}, "mark": {"type": "text", "color": "white", "fontSize": 8.5, "align": "center", "baseline": "middle", "text": "13,44550"},
  "encoding": {"x": {"datum": 353.6, "type": "quantitative"}, "y": {"datum": 13.459, "type": "quantitative"}}},
 {"data": {"values": [{}]}, "mark": {"type": "rect", "fill": "#131722", "cornerRadius": 2},
  "encoding": {"x": {"datum": 343.2, "type": "quantitative"}, "x2": {"datum": 363.6}, "y": {"datum": 11.826, "type": "quantitative"}, "y2": {"datum": 11.686}}},
 {"data": {"values": [{}]}, "mark": {"type": "text", "color": "white", "fontSize": 8.5, "align": "center", "baseline": "middle", "text": "11,76695"},
  "encoding": {"x": {"datum": 353.4, "type": "quantitative"}, "y": {"datum": 11.757, "type": "quantitative"}}},
 {"data": {"values": [{}]}, "mark": {"type": "rect", "fill": "#f7812f", "cornerRadius": 2},
  "encoding": {"x": {"datum": 334.5, "type": "quantitative"}, "x2": {"datum": 341.3}, "y": {"datum": 11.837, "type": "quantitative"}, "y2": {"datum": 11.674}}},
 {"data": {"values": [{}]}, "mark": {"type": "text", "color": "white", "fontSize": 13, "fontWeight": "bold", "align": "center", "baseline": "middle", "text": "+"},
  "encoding": {"x": {"datum": 337.9, "type": "quantitative"}, "y": {"datum": 11.757, "type": "quantitative"}}},
 {"data": {"values": [{}]}, "mark": {"type": "text", "color": "#e7625f", "fontSize": 8.5, "align": "right", "baseline": "middle", "text": "-12,49%"},
  "encoding": {"x": {"datum": 331, "type": "quantitative"}, "y": {"datum": 11.757, "type": "quantitative"}}}
]}
]
},
{
"width": 713, "height": 90,
"layer": [
 {"data": {"name": "rsi"}, "mark": {"type": "line", "color": "#a8865f", "strokeWidth": 1, "clip": true},
  "encoding": {
   "x": {"field": "i", "type": "quantitative", "scale": {"domain": [-3.883, 342.23], "nice": false, "zero": false},
         "axis": {"values": [2.18,18.93,36.89,55.1,72.82,90.53,116.99,161.65,179.13,196.6,214.56,232.04,250,267.48,286.41,303.88,320.39,337.86],
                  "labelExpr": "['20 июл','15 авг','8 сен','4 окт','30','23 ноя','2024','7 мар','3 апр','27','24 май','20 июн','16 июл','9 авг','4 сен','30','18 окт','5 ноя'][indexof([2.18,18.93,36.89,55.1,72.82,90.53,116.99,161.65,179.13,196.6,214.56,232.04,250,267.48,286.41,303.88,320.39,337.86], datum.value)]",
                  "grid": true, "gridColor": "#eef0f5", "ticks": false, "domain": false, "labelPadding": 7, "labelOverlap": false, "labelFlush": false, "labelColor": "#50535e", "title": null}},
   "y": {"field": "r", "type": "quantitative", "scale": {"domain": [-6, 108.9], "nice": false, "zero": false},
         "axis": {"orient": "right", "tickCount": 3, "grid": false, "ticks": false, "domain": false, "labelPadding": 7, "title": null}}}},
 {"data": {"name": "rg"}, "mark": {"type": "area", "color": "#90e890", "clip": true},
  "encoding": {"x": {"field": "i", "type": "quantitative"}, "y": {"field": "r", "type": "quantitative"}, "y2": {"datum": 70}, "detail": {"field": "s", "type": "nominal"}}},
 {"data": {"name": "rr"}, "mark": {"type": "area", "color": "#f08c8c", "clip": true},
  "encoding": {"x": {"field": "i", "type": "quantitative"}, "y": {"field": "r", "type": "quantitative"}, "y2": {"datum": 30}, "detail": {"field": "s", "type": "nominal"}}},
 {"data": {"values": [{}]}, "mark": {"type": "rule", "color": "#787b86", "strokeWidth": 1},
  "encoding": {"y": {"datum": 70, "type": "quantitative"}}},
 {"data": {"values": [{}]}, "mark": {"type": "rule", "color": "#787b86", "strokeWidth": 1},
  "encoding": {"y": {"datum": 30, "type": "quantitative"}}},
 {"data": {"values": [{}]}, "mark": {"type": "rule", "color": "#787b86", "strokeWidth": 1, "strokeDash": [4, 3]},
  "encoding": {"y": {"datum": 50, "type": "quantitative"}}},
 {"data": {"values": [{}]}, "mark": {"type": "rule", "color": "#9598a1", "strokeDash": [2, 2], "strokeWidth": 1},
  "encoding": {"x": {"datum": 140.3, "type": "quantitative"}}},
 {"data": {"name": "rsi"}, "mark": {"type": "line", "color": "#a8865f", "strokeWidth": 1, "clip": true},
  "encoding": {"x": {"field": "i", "type": "quantitative"}, "y": {"field": "r", "type": "quantitative"}}},
 {"data": {"name": "rl"}, "mark": {"type": "text", "color": "#50535e", "fontSize": 8.5, "align": "left", "baseline": "middle"},
  "encoding": {"x": {"datum": 345.6, "type": "quantitative"}, "y": {"field": "r", "type": "quantitative"}, "text": {"field": "t"}}},
 {"data": {"values": [{}]}, "mark": {"type": "rule", "color": "#131722", "strokeWidth": 1.5},
  "encoding": {"x": {"datum": -1.94, "type": "quantitative"}, "x2": {"datum": -0.49}, "y": {"datum": 97.4, "type": "quantitative"}}},
 {"data": {"values": [{}]}, "mark": {"type": "text", "color": "#6a6d78", "fontSize": 8.5, "align": "left", "baseline": "middle", "text": "Relative Strength Index (RSI) (SMMA, 13)"},
  "encoding": {"x": {"datum": 3.4, "type": "quantitative"}, "y": {"datum": 97.4, "type": "quantitative"}}},
 {"data": {"values": [{}]}, "mark": {"type": "text", "color": "#a8865f", "fontSize": 8.5, "align": "left", "baseline": "middle", "text": "59,8"},
  "encoding": {"x": {"datum": 81.07, "type": "quantitative"}, "y": {"datum": 97.4, "type": "quantitative"}}},
 {"data": {"values": [{}]}, "mark": {"type": "rect", "fill": "#131722", "cornerRadius": 3},
  "encoding": {"x": {"datum": 130.6, "type": "quantitative"}, "x2": {"datum": 150.0}, "y": {"datum": -11.1, "type": "quantitative"}, "y2": {"datum": -30.3}}},
 {"data": {"values": [{}]}, "mark": {"type": "text", "color": "white", "fontSize": 8.5, "fontWeight": "bold", "align": "center", "baseline": "middle", "text": "6 фев 2024"},
  "encoding": {"x": {"datum": 140.3, "type": "quantitative"}, "y": {"datum": -20.7, "type": "quantitative"}}}
]
}
]
}
